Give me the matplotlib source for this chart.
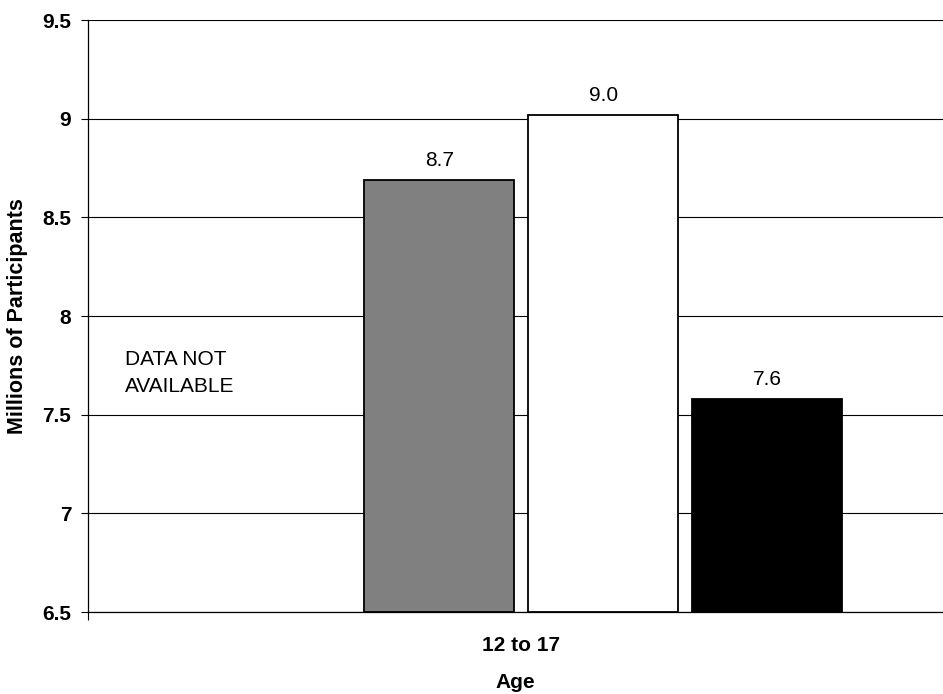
import matplotlib
matplotlib.use("Agg")
import matplotlib.pyplot as plt

plt.rcParams['font.family'] = ['Liberation Sans', 'DejaVu Sans']

categories = ["12 to 17"]
series_names = ["Not available", "Series 2", "Series 3", "Series 4"]
series_values = [None, 8.69, 9.02, 7.58]
value_labels = ["", "8.7", "9.0", "7.6"]
series_colors = ["none", "#808080", "#ffffff", "#000000"]
yticks = [6.5, 7, 7.5, 8, 8.5, 9, 9.5]
ytick_labels = ["6.5", "7", "7.5", "8", "8.5", "9", "9.5"]

W, H = 943, 694
fig = plt.figure(figsize=(W / 100, H / 100), dpi=100)
ax = fig.add_axes([88 / W, (H - 612) / H, (943 - 88) / W, (612 - 20) / H])

slot = 1.0
bw = 150 / 164
offsets = [-1.5, -0.5, 0.5, 1.5]
for i, v in enumerate(series_values):
    x = offsets[i] * slot
    if v is None:
        continue
    ax.bar(x, v - 6.5, bottom=6.5, width=bw, color=series_colors[i],
           edgecolor="black", linewidth=1.3, zorder=3)
    ax.annotate(value_labels[i], (x, v), xytext=(0, 7), textcoords="offset points",
                ha="center", va="bottom", fontsize=15)

ax.text(-2.415, 7.71, "DATA NOT\nAVAILABLE", ha="left", va="center", fontsize=15,
        linespacing=1.5)

ax.set_xlim((88 - 521.25) / 164, (943 - 521.25) / 164)
ax.set_ylim(6.5, 9.5)
ax.set_yticks(yticks)
ax.set_yticklabels(ytick_labels, fontsize=15, fontweight="bold")
ax.yaxis.grid(True, color="black", linewidth=0.8, zorder=0)
ax.set_axisbelow(True)
ax.tick_params(axis="y", direction="out", length=5, width=0.8, pad=7)

ax.set_xticks([0])
ax.set_xticklabels(categories, fontsize=15, fontweight="bold")
ax.tick_params(axis="x", length=0, pad=17)
ax.set_xticks([ax.get_xlim()[0]], minor=True)
ax.tick_params(axis="x", which="minor", length=6, width=0.8, direction="out")

ax.set_xlabel("Age", fontsize=15, fontweight="bold", labelpad=13)
ax.set_ylabel("Millions of Participants", fontsize=15.5, fontweight="bold", labelpad=10)

for s in ["top", "right"]:
    ax.spines[s].set_visible(False)
ax.spines["left"].set_linewidth(0.9)
ax.spines["bottom"].set_linewidth(0.9)

fig.savefig("out.png", dpi=100)
